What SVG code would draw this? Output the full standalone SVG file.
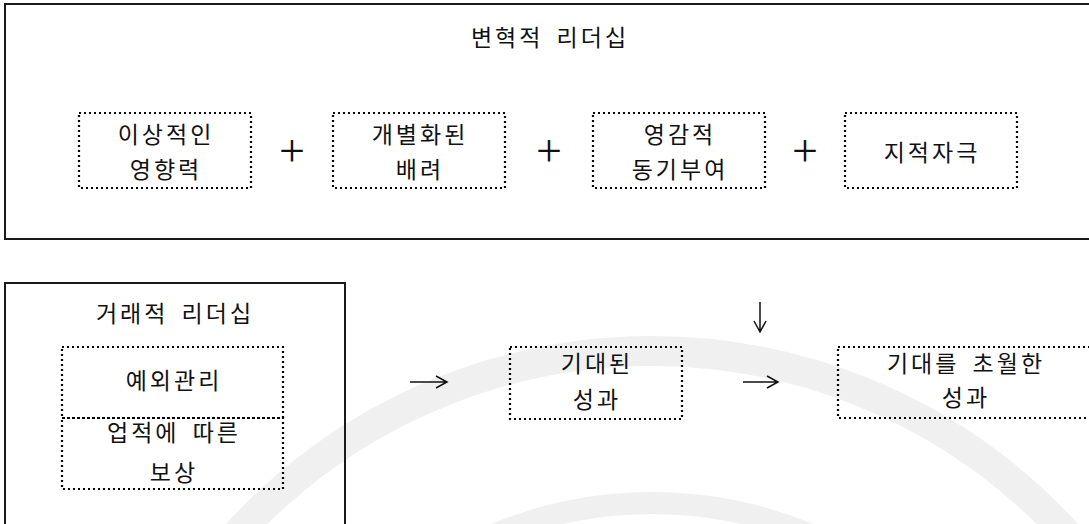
<svg xmlns="http://www.w3.org/2000/svg" width="1089" height="524" viewBox="0 0 1089 524">
<style>
.frame{fill:none;stroke:#1a1a1a;stroke-width:2}
.dot{fill:none;stroke:#000;stroke-width:2.2;stroke-dasharray:2 3}
.t{font-family:"Noto Sans CJK KR","Noto Sans",sans-serif;font-size:23px;letter-spacing:3px;word-spacing:5px;fill:#111;text-anchor:middle}
.op{font-family:"Liberation Serif","DejaVu Serif",serif;font-size:46px;fill:#111;text-anchor:middle}
.arr{fill:none;stroke:#111;stroke-width:1.5}
.wm{fill:none;stroke:#f0f0f0}
</style>
<rect width="1089" height="524" fill="#fff"/>
<g id="watermark">
<circle class="wm" cx="652" cy="913" r="562" stroke-width="30"/>
<circle class="wm" cx="652" cy="913" r="410" stroke-width="22"/>
</g>
<g id="transformational">
<rect class="frame" x="5" y="4" width="1090" height="235"/>
<text class="t" x="550" y="46">변혁적 리더십</text>
</g>
<g id="idealized-influence">
<rect class="dot" x="79" y="113" width="172" height="75"/>
<text class="t" x="166" y="143">이상적인</text>
<text class="t" x="166" y="178">영향력</text>
</g>
<g id="individualized-consideration">
<rect class="dot" x="333" y="113" width="172" height="75"/>
<text class="t" x="420" y="143">개별화된</text>
<text class="t" x="420" y="178">배려</text>
</g>
<g id="inspirational-motivation">
<rect class="dot" x="593" y="113" width="172" height="75"/>
<text class="t" x="680" y="143">영감적</text>
<text class="t" x="680" y="178">동기부여</text>
</g>
<g id="intellectual-stimulation">
<rect class="dot" x="845" y="113" width="172" height="75"/>
<text class="t" x="932" y="161">지적자극</text>
</g>
<g id="plus-signs">
<text class="op" x="292" y="166">+</text>
<text class="op" x="549" y="166">+</text>
<text class="op" x="805" y="166">+</text>
</g>
<g id="transactional">
<rect class="frame" x="5" y="283" width="340" height="260"/>
<text class="t" x="175" y="322">거래적 리더십</text>
</g>
<g id="management-by-exception">
<rect class="dot" x="62" y="347" width="221" height="71"/>
<text class="t" x="174" y="389">예외관리</text>
</g>
<g id="contingent-reward">
<rect class="dot" x="62" y="418" width="221" height="71"/>
<text class="t" x="174" y="441">업적에 따른</text>
<text class="t" x="174" y="481">보상</text>
</g>
<g id="expected-performance">
<rect class="dot" x="510" y="347" width="172" height="72"/>
<text class="t" x="597" y="372">기대된</text>
<text class="t" x="597" y="408">성과</text>
</g>
<g id="beyond-expectations">
<rect class="dot" x="838" y="347" width="256" height="71"/>
<text class="t" x="966" y="372">기대를 초월한</text>
<text class="t" x="966" y="406">성과</text>
</g>
<g id="connectors">
<path class="arr" d="M410,382 H447 M436,376 L447,382 L436,388"/>
<path class="arr" d="M743,382 H778 M767,376 L778,382 L767,388"/>
<path class="arr" d="M760,302 V332 M754,321 L760,332 L766,321"/>
</g>
</svg>
